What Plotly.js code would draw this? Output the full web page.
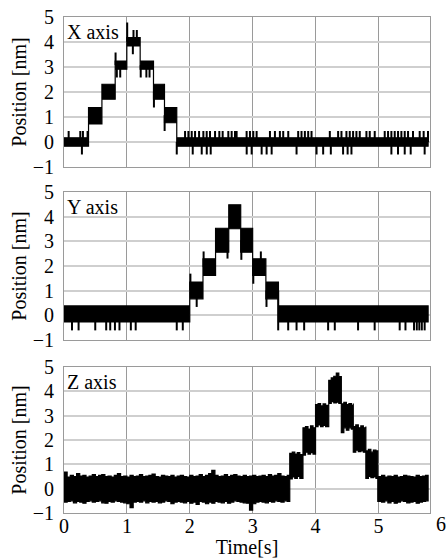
<!DOCTYPE html>
<html><head><meta charset="utf-8">
<script src="https://cdn.plot.ly/plotly-3.0.1.min.js"></script>
<style>html,body{margin:0;padding:0;background:#fff}#chart{width:448px;height:558px}
#chart svg text{font-family:'Liberation Serif','Times New Roman',serif !important}</style>
</head><body><div id="chart"></div>
<script>
// ---------- data ----------
const panelNames = ['X axis', 'Y axis', 'Z axis'];
const timeTicks = [0, 1, 2, 3, 4, 5, 6];
const posTicks = [-1, 0, 1, 2, 3, 4, 5];

// X axis: step envelope (time, upper edge, lower edge)
const xEnvT  = [0, 0.39, 0.39, 0.603, 0.603, 0.814, 0.814, 0.999, 0.999, 1.211, 1.211, 1.423, 1.423, 1.598, 1.598, 1.793, 1.793, 5.79];
const xEnvHi = [0.17, 0.17, 1.38, 1.38, 2.31, 2.31, 3.24, 3.24, 4.18, 4.18, 3.24, 3.24, 2.31, 2.31, 1.38, 1.38, 0.17, 0.17];
const xEnvLo = [-0.17, -0.17, 0.72, 0.72, 1.71, 1.71, 2.91, 2.91, 3.84, 3.84, 2.91, 2.91, 1.71, 1.71, 0.77, 0.77, -0.17, -0.17];
const xUpSpikeT = [0.074,0.259,0.301,0.375,1.925,1.978,2.031,2.084,2.148,2.216,2.269,2.322,2.402,2.470,2.523,2.613,2.666,2.719,2.745,2.904,2.957,3.010,3.063,3.275,3.354,3.433,3.486,3.566,3.724,3.777,3.830,3.883,3.936,4.227,4.359,4.412,4.491,4.544,4.597,4.650,4.703,4.809,4.862,4.941,5.100,5.153,5.206,5.259,5.312,5.365,5.418,5.471,5.550,5.656,5.719,5.788];
const xUpSpikeLevel = 0.44;
const xDownSpikeT = [0.285,1.793,2.047,2.19,2.27,2.333,2.905,2.984,3.143,3.222,3.302,3.698,4.016,4.121,4.243,4.438,4.51,4.571,5.206,5.311,5.418,5.513,5.735];
const xDownSpikeLevel = -0.5;
const xStepSpikeT   = [0.82, 0.84, 0.894, 1.005, 1.095, 1.105, 1.158, 1.22, 1.31, 1.36, 1.43, 1.60];
const xStepSpikeTip = [3.58, 2.58, 2.58, 4.78, 3.51, 4.48, 4.48, 2.58, 2.58, 2.58, 1.38, 0.44];

// Y axis
const yEnvT  = [0, 2.0, 2.0, 2.21, 2.21, 2.41, 2.41, 2.62, 2.62, 2.81, 2.81, 3.0, 3.0, 3.21, 3.21, 3.41, 3.41, 5.79];
const yEnvHi = [0.38, 0.38, 1.35, 1.35, 2.29, 2.29, 3.53, 3.53, 4.48, 4.48, 3.53, 3.53, 2.29, 2.29, 1.35, 1.35, 0.38, 0.38];
const yEnvLo = [-0.27, -0.27, 0.67, 0.67, 1.62, 1.62, 2.56, 2.56, 3.51, 3.51, 2.56, 2.56, 1.62, 1.62, 0.67, 0.67, -0.27, -0.27];
const yDownSpikeT = [0.127,0.232,0.497,0.671,0.735,0.81,0.882,1.063,1.14,1.793,1.889,3.406,3.565,3.698,3.819,4.2,4.306,4.676,4.94,5.338,5.43,5.566,5.61,5.65,5.69,5.735];
const yDownSpikeLevel = -0.61;
const yStepSpikeT   = [2.01, 2.11, 2.22, 2.60, 2.82, 3.01, 3.13, 3.22];
const yStepSpikeTip = [1.69, 0.34, 2.59, 2.30, 2.25, 1.28, 2.59, 0.34];

// Z axis: noisy envelope
const zEnvT = [0,0.05,0.1,0.15,0.2,0.25,0.3,0.35,0.4,0.45,0.5,0.55,0.6,0.65,0.7,0.75,0.8,0.85,0.9,0.95,1.0,1.05,1.1,1.15,1.2,1.25,1.3,1.35,1.4,1.45,1.5,1.55,1.6,1.65,1.7,1.75,1.8,1.85,1.9,1.95,
  2.0,2.05,2.1,2.15,2.2,2.25,2.3,2.35,2.4,2.45,2.5,2.55,2.6,2.65,2.7,2.75,2.8,2.85,2.9,2.95,3.0,3.05,3.1,3.15,3.2,3.25,3.3,3.35,3.4,3.45,3.5,3.55,3.59,
  3.59,3.63,3.67,3.71,3.75,3.8, 3.8,3.84,3.88,3.92,3.96,4.0, 4.0,4.04,4.08,4.12,4.16,4.21, 4.21,4.25,4.29,4.33,4.37,4.41, 4.41,4.45,4.49,4.53,4.57,4.6, 4.6,4.64,4.68,4.72,4.76,4.8, 4.8,4.84,4.88,4.92,4.96,4.99,
  4.99,5.05,5.1,5.15,5.2,5.25,5.3,5.35,5.4,5.45,5.5,5.55,5.6,5.65,5.7,5.75,5.79];
const zEnvHi = [0.68,0.48,0.55,0.5,0.62,0.52,0.55,0.48,0.52,0.58,0.5,0.55,0.58,0.5,0.52,0.48,0.55,0.62,0.5,0.52,0.48,0.55,0.5,0.52,0.58,0.5,0.52,0.55,0.6,0.5,0.48,0.55,0.52,0.5,0.55,0.48,0.52,0.55,0.5,0.48,
  0.55,0.5,0.52,0.58,0.5,0.55,0.62,0.75,0.55,0.5,0.52,0.58,0.5,0.55,0.58,0.52,0.5,0.55,0.5,0.52,0.55,0.5,0.52,0.55,0.5,0.58,0.52,0.55,0.62,0.52,0.5,0.55,0.5,
  1.45,1.5,1.42,1.48,1.4,1.45, 2.5,2.55,2.45,2.58,2.5,2.55, 3.45,3.5,3.4,3.48,3.42,3.5, 4.45,4.55,4.62,4.75,4.6,4.5, 3.48,3.55,3.45,3.5,3.42,3.5, 2.55,2.62,2.5,2.58,2.5,2.55, 1.55,1.62,1.5,1.58,1.55,1.58,
  0.5,0.55,0.48,0.52,0.5,0.55,0.48,0.5,0.55,0.52,0.5,0.48,0.55,0.5,0.52,0.55,0.5];
const zEnvLo = [-0.5,-0.55,-0.52,-0.5,-0.58,-0.52,-0.55,-0.6,-0.52,-0.5,-0.55,-0.52,-0.5,-0.58,-0.6,-0.52,-0.55,-0.5,-0.52,-0.55,-0.58,-0.62,-0.78,-0.55,-0.52,-0.55,-0.5,-0.58,-0.52,-0.55,-0.52,-0.58,-0.55,-0.5,-0.52,-0.62,-0.55,-0.52,-0.55,-0.58,
  -0.52,-0.6,-0.55,-0.65,-0.52,-0.55,-0.62,-0.55,-0.6,-0.52,-0.55,-0.58,-0.52,-0.6,-0.55,-0.5,-0.52,-0.55,-0.58,-0.6,-0.88,-0.62,-0.55,-0.52,-0.55,-0.58,-0.52,-0.55,-0.5,-0.52,-0.55,-0.5,-0.52,
  0.45,0.4,0.48,0.42,0.5,0.42, 1.45,1.38,1.5,1.42,1.48,1.42, 2.6,2.55,2.62,2.55,2.6,2.55, 3.55,3.5,3.58,3.52,3.55,3.5, 2.45,2.3,2.5,2.4,2.5,2.45, 1.55,1.5,1.58,1.52,1.55,1.5, 0.45,0.42,0.5,0.45,0.48,0.42,
  -0.48,-0.52,-0.55,-0.5,-0.58,-0.52,-0.6,-0.55,-0.5,-0.52,-0.58,-0.55,-0.52,-0.6,-0.55,-0.52,-0.5];

// ---------- build traces ----------
const timeRange = [0, 5.82];
function band(t, hi, lo, xa, ya, shape) {
  return {type: 'scatter', mode: 'lines', xaxis: xa, yaxis: ya,
    x: t.concat(t.slice().reverse()), y: hi.concat(lo.slice().reverse()),
    fill: 'toself', fillcolor: '#000', line: {color: '#000', width: 1.2, shape: shape || 'linear'}, hoverinfo: 'skip'};
}
function baseAt(t, envT, hi, lo) {
  let k = 0;
  for (let j = 0; j < envT.length; j++) if (envT[j] <= t) k = j;
  return (hi[k] + lo[k]) / 2;
}
function spikes(ts, tips, envT, hi, lo, xa, ya) {
  const xs = [], ys = [];
  ts.forEach((t, i) => {
    const tip = Array.isArray(tips) ? tips[i] : tips;
    xs.push(t, t, null); ys.push(baseAt(t, envT, hi, lo), tip, null);
  });
  return {type: 'scatter', mode: 'lines', xaxis: xa, yaxis: ya, x: xs, y: ys,
    line: {color: '#000', width: 2}, hoverinfo: 'skip'};
}
const traces = [
  band(xEnvT, xEnvHi, xEnvLo, 'x', 'y'),
  spikes(xUpSpikeT, xUpSpikeLevel, xEnvT, xEnvHi, xEnvLo, 'x', 'y'),
  spikes(xDownSpikeT, xDownSpikeLevel, xEnvT, xEnvHi, xEnvLo, 'x', 'y'),
  spikes(xStepSpikeT, xStepSpikeTip, xEnvT, xEnvHi, xEnvLo, 'x', 'y'),
  band(yEnvT, yEnvHi, yEnvLo, 'x2', 'y2'),
  spikes(yDownSpikeT, yDownSpikeLevel, yEnvT, yEnvHi, yEnvLo, 'x2', 'y2'),
  spikes(yStepSpikeT, yStepSpikeTip, yEnvT, yEnvHi, yEnvLo, 'x2', 'y2'),
  band(zEnvT, zEnvHi, zEnvLo, 'x3', 'y3', 'hv')
];

function f20() { return {family: 'Liberation Serif', size: 20, color: '#000'}; }
function xAx(anchor, showLabels) {
  return {anchor: anchor, domain: [0, 1], range: timeRange, tickvals: timeTicks.slice(0, 6),
    showticklabels: showLabels, tickfont: f20(), ticks: '', ticklabelstandoff: -5, showgrid: true, gridcolor: '#9a9a9a', gridwidth: 1,
    zeroline: false, showline: true, mirror: true, linecolor: '#9a9a9a', linewidth: 1,
    title: showLabels ? {text: 'Time[s]', font: f20(), standoff: 0} : {text: ''}};
}
function yAx(anchor, domain) {
  return {anchor: anchor, domain: domain, range: [-1, 5], tickvals: posTicks,
    tickfont: f20(), ticks: '', ticklabelstandoff: 5, showgrid: true, gridcolor: '#cfcfcf', gridwidth: 1.5,
    zeroline: false, showline: true, mirror: true, linecolor: '#9a9a9a', linewidth: 1,
    title: {text: 'Position [nm]', font: f20(), standoff: 0}};
}
function panelLabel(i, xa, ya) {
  return {text: panelNames[i], xref: xa + ' domain', yref: ya + ' domain', x: 0, y: 1, xanchor: 'left', yanchor: 'top',
    xshift: 1, yshift: -2, showarrow: false, font: f20()};
}
const layout = {
  width: 448, height: 558, paper_bgcolor: '#fff', plot_bgcolor: '#fff',
  margin: {l: 64, r: 18, t: 17, b: 45}, showlegend: false, font: f20(),
  xaxis: xAx('y', false), xaxis2: xAx('y2', false), xaxis3: xAx('y3', true),
  yaxis: yAx('x', [0.6976, 1]), yaxis2: yAx('x2', [0.3488, 0.6472]), yaxis3: yAx('x3', [0, 0.2944]),
  annotations: [
    panelLabel(0, 'x', 'y'), panelLabel(1, 'x2', 'y2'), panelLabel(2, 'x3', 'y3'),
    {text: String(timeTicks[6]), xref: 'paper', yref: 'paper', x: (timeTicks[6] - timeRange[0]) / (timeRange[1] - timeRange[0]), y: 0,
     xanchor: 'center', yanchor: 'top', yshift: 2, showarrow: false, font: f20()}
  ]
};
Plotly.newPlot('chart', traces, layout, {displayModeBar: false});
</script></body></html>
